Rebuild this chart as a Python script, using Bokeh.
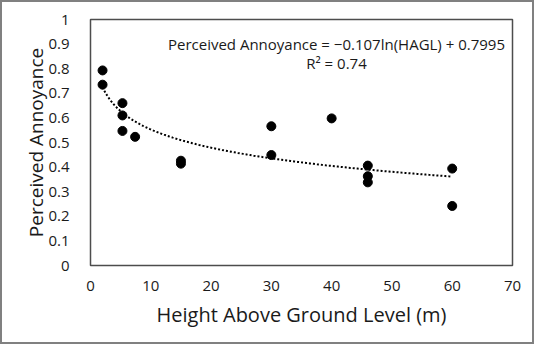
import numpy as np
from bokeh.plotting import figure
from bokeh.models import Label, FixedTicker
from bokeh.embed import file_html
from bokeh.resources import INLINE

# data
hagl = [2, 2, 5.3, 5.3, 5.3, 7.4, 15, 15, 30, 30, 40, 46, 46, 46, 60, 60]
annoyance = [0.793, 0.735, 0.66, 0.61, 0.547, 0.523, 0.426, 0.414, 0.566, 0.449,
             0.598, 0.406, 0.363, 0.338, 0.394, 0.242]

# logarithmic trendline coefficients shown on the chart
coef_a = -0.107
coef_b = 0.7995
trend_x = np.linspace(min(hagl), max(hagl), 200)
trend_y = coef_a * np.log(trend_x) + coef_b

x_ticks = [0, 10, 20, 30, 40, 50, 60, 70]
y_ticks = [0, 0.1, 0.2, 0.3, 0.4, 0.5, 0.6, 0.7, 0.8, 0.9, 1.0]

FONT = "Open Sans"
TEXT = "#1a1a1a"

p = figure(width=534, height=344, output_backend="svg", toolbar_location=None,
           x_range=(0, 70), y_range=(0, 1),
           min_border_left=88, min_border_right=24, min_border_top=17, min_border_bottom=81,
           styles={"border": "2px solid #808080", "box-sizing": "border-box"})

p.xgrid.grid_line_color = None
p.ygrid.grid_line_color = None
p.outline_line_color = "#4d4d4d"
p.outline_line_width = 1.5
p.background_fill_color = "white"
p.border_fill_color = "white"

for ax in (p.xaxis[0], p.yaxis[0]):
    ax.axis_line_color = None
    ax.major_tick_line_color = None
    ax.minor_tick_line_color = None
    ax.major_label_text_font = FONT
    ax.major_label_text_font_size = "15px"
    ax.major_label_text_color = TEXT
    ax.axis_label_text_font = FONT
    ax.axis_label_text_font_size = "20px"
    ax.axis_label_text_font_style = "normal"
    ax.axis_label_text_color = TEXT

p.xaxis.ticker = FixedTicker(ticks=x_ticks)
p.yaxis.ticker = FixedTicker(ticks=y_ticks)
p.yaxis.major_label_overrides = {0: "0", 1.0: "1"}
p.xaxis.major_label_standoff = 9
p.yaxis.major_label_standoff = 15
p.xaxis.axis_label = "Height Above Ground Level (m)"
p.yaxis.axis_label = "Perceived Annoyance"
p.yaxis.axis_label_text_font_size = "19px"
p.xaxis.axis_label_standoff = 7
p.yaxis.axis_label_standoff = -4

p.line(trend_x, trend_y, line_color="black", line_width=2, line_dash="2 2")
p.scatter(hagl, annoyance, size=9, color="black")

p.add_layout(Label(x=40.8, y=0.902, text="Perceived Annoyance = \u22120.107ln(HAGL) + 0.7995",
                   text_align="center", text_baseline="middle", text_font=FONT,
                   text_font_size="15px", text_color=TEXT))
p.add_layout(Label(x=40.8, y=0.824, text="R\u00b2 = 0.74",
                   text_align="center", text_baseline="middle", text_font=FONT,
                   text_font_size="15px", text_color=TEXT))

open("out.html", "w").write(file_html(p, INLINE))
